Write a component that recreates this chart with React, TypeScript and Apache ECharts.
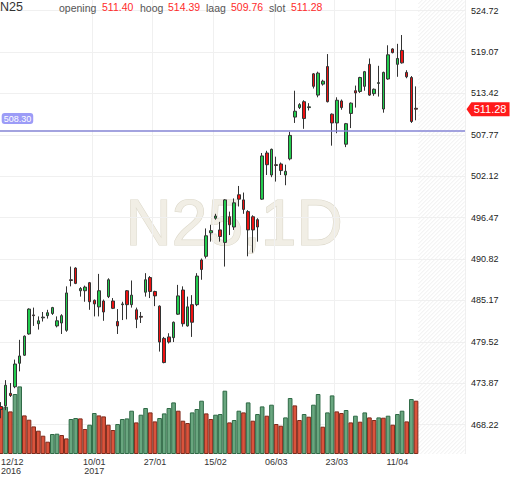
import React, { useEffect, useRef } from "react";
import * as echarts from "echarts";

const dates = [
  "12/12/2016","13/12/2016","14/12/2016","15/12/2016","16/12/2016","19/12/2016","20/12/2016","21/12/2016","22/12/2016","23/12/2016",
  "27/12/2016","28/12/2016","29/12/2016","30/12/2016","02/01/2017","03/01/2017","04/01/2017","05/01/2017","06/01/2017","09/01/2017",
  "10/01/2017","11/01/2017","12/01/2017","13/01/2017","16/01/2017","17/01/2017","18/01/2017","19/01/2017","20/01/2017","23/01/2017",
  "24/01/2017","25/01/2017","26/01/2017","27/01/2017","30/01/2017","31/01/2017","01/02/2017","02/02/2017","03/02/2017","06/02/2017",
  "07/02/2017","08/02/2017","09/02/2017","10/02/2017","13/02/2017","14/02/2017","15/02/2017","16/02/2017","17/02/2017","20/02/2017",
  "21/02/2017","22/02/2017","23/02/2017","24/02/2017","27/02/2017","28/02/2017","01/03/2017","02/03/2017","03/03/2017","06/03/2017",
  "07/03/2017","08/03/2017","09/03/2017","10/03/2017","13/03/2017","14/03/2017","15/03/2017","16/03/2017","17/03/2017","20/03/2017",
  "21/03/2017","22/03/2017","23/03/2017","24/03/2017","27/03/2017","28/03/2017","29/03/2017","30/03/2017","31/03/2017","03/04/2017",
  "04/04/2017","05/04/2017","06/04/2017","07/04/2017","10/04/2017","11/04/2017","12/04/2017","13/04/2017","18/04/2017","19/04/2017"
];

const opens = [
  470.7,470.8,472.5,473.4,476.6,477.7,480.6,483.2,482.0,482.8,
  483.1,483.4,481.7,482.1,481.1,488.0,489.6,486.5,486.5,487.6,
  485.2,484.3,485.1,485.7,485.1,482.3,484.6,486.5,484.6,483.9,
  483.0,486.3,488.3,486.4,484.4,480.0,480.2,480.1,483.3,486.6,
  481.7,484.6,484.6,490.7,491.2,494.4,496.4,494.8,493.1,496.6,
  495.2,499.6,498.9,497.3,496.6,496.2,499.0,505.3,502.3,503.7,
  503.8,502.3,504.5,510.2,511.5,512.3,511.5,516.1,513.2,514.7,
  517.1,510.6,509.4,512.4,506.5,510.7,513.8,513.7,514.4,517.4,
  513.4,514.8,511.3,515.4,519.5,517.4,519.3,516.3,515.6,511.40
];
const highs = [
  471.3,474.3,473.9,477.1,479.8,480.4,484.1,484.2,483.0,483.6,
  483.9,484.3,483.0,483.3,487.1,489.8,489.7,487.0,487.2,487.7,
  485.3,488.8,485.3,488.2,485.5,484.0,485.0,486.6,487.9,484.2,
  483.6,488.9,488.5,486.5,484.5,480.2,480.7,482.3,487.3,487.1,
  485.7,485.9,488.9,490.9,495.0,495.5,497.0,495.9,499.0,497.3,
  499.1,500.8,499.9,497.5,496.8,496.4,505.3,505.6,505.9,504.8,
  504.0,503.7,508.2,513.8,512.1,512.5,512.1,516.2,516.4,515.3,
  518.8,510.7,512.9,512.6,509.4,512.2,514.5,515.7,516.5,518.2,
  514.1,517.2,516.4,520.0,519.6,520.2,521.4,516.6,515.8,514.39
];
const lows = [
  469.1,470.2,472.0,473.2,475.5,477.6,480.5,481.7,481.2,482.3,
  482.7,483.2,481.5,480.6,480.9,487.1,487.4,485.7,485.0,483.9,
  483.0,483.0,482.4,485.5,484.0,480.6,482.5,482.6,484.2,481.4,
  482.1,485.7,485.5,484.4,478.2,476.6,479.3,479.5,483.2,481.6,
  481.6,480.2,484.4,488.0,490.9,493.2,496.2,493.2,489.8,494.1,
  494.8,498.0,497.0,491.2,491.7,493.2,498.9,502.3,502.0,501.4,
  502.3,500.9,504.3,509.4,511.3,508.6,511.1,514.1,512.9,514.5,
  512.2,506.3,508.0,511.2,506.1,508.7,511.5,513.5,513.8,513.1,
  513.1,513.0,510.8,515.3,518.9,515.7,517.5,515.5,509.4,509.76
];
const closes = [
  470.3,473.6,472.2,476.5,477.6,480.3,484.0,483.1,482.4,482.9,
  483.5,484.2,482.4,483.1,486.2,487.9,487.5,486.8,487.0,485.0,
  484.7,486.5,483.6,488.0,484.1,481.7,484.7,484.6,485.9,482.6,
  482.9,488.0,486.4,485.8,479.5,476.7,479.5,482.2,485.8,482.0,
  484.3,482.2,488.5,489.4,494.0,494.7,496.7,493.9,498.9,495.5,
  498.5,499.0,497.6,494.8,494.8,495.2,504.9,503.7,505.8,503.6,
  502.9,502.8,507.7,511.0,511.9,510.0,511.6,514.4,516.2,515.1,
  512.3,509.4,512.5,511.5,509.3,512.1,513.5,515.6,516.4,513.2,
  514.0,514.9,516.3,518.7,519.0,518.2,517.6,515.7,509.6,511.28
];
const volumes = [
  46.6,47.3,42.6,60.0,67.6,38.6,34.3,27.6,23.3,18.3,
  12.3,20.0,20.3,19.0,15.6,35.0,36.0,35.6,25.0,29.3,
  41.0,38.6,37.6,29.3,24.0,30.0,35.0,35.6,43.3,31.6,
  39.3,46.0,41.6,32.6,36.0,40.6,46.0,51.6,43.3,33.3,
  31.0,41.6,45.0,53.3,40.6,35.0,39.3,40.0,63.3,31.6,
  34.0,43.3,41.6,51.6,33.3,40.0,47.6,38.3,49.3,30.0,
  28.3,36.6,56.0,48.6,34.0,40.0,37.3,49.3,60.0,27.3,
  41.6,58.6,42.6,41.0,44.0,31.6,38.3,32.3,41.6,36.6,
  34.0,36.6,36.3,38.3,29.3,40.0,43.3,32.6,55.0,53.3
];

const labelDates = ["12/12/2016","10/01/2017","27/01/2017","15/02/2017","06/03/2017","23/03/2017","11/04/2017"];
const priceTicks = [468.22,473.87,479.52,485.17,490.82,496.47,502.12,507.77,513.42,519.07,524.72];
const priceMin = 464.22;
const priceMax = 526.18;
const volumeMax = 454;
const refLevel = 508.3;
const futureSlots = 10;
const symbolName = "N25";
const watermarkText = "N25,1D";
const headerNames = ["opening", "hoog", "laag", "slot"];

const FONT = 'Arial, "Liberation Sans", sans-serif';

export default function App() {
  const ref = useRef<HTMLDivElement>(null);

  useEffect(() => {
    if (!ref.current) return;
    const chart = echarts.init(ref.current, undefined, { renderer: "svg" });

    const axisData = [...dates, ...Array(futureSlots).fill("")];
    const candleData = dates.map((_, i) => [opens[i], closes[i], lows[i], highs[i]]);
    const volData = volumes.map((v, i) => {
      const up = i > 0 && v > volumes[i - 1];
      return {
        value: v,
        itemStyle: {
          color: up ? "#69a67f" : "#da533c",
          borderColor: up ? "#2f6a46" : "#7e2b1c",
        },
      };
    });

    const yearOf: Record<string, string> = {};
    let prevYear = "";
    labelDates.forEach((d) => {
      const y = d.split("/")[2];
      if (y !== prevYear) yearOf[d] = y;
      prevYear = y;
    });
    const showLabel = (_i: number, v: string) => labelDates.includes(v);

    const last = dates.length - 1;
    const headerValues = [opens[last], highs[last], lows[last], closes[last]];
    const nameX = [59, 140, 206, 269];
    const valX = [102, 168, 231, 291];

    const graphic: any[] = [
      {
        type: "text",
        left: 233 - 108,
        top: 190,
        z: -10,
        silent: true,
        style: {
          text: watermarkText,
          font: `64px ${FONT}`,
          fill: "#f1eee5",
          stroke: "#dcd8ca",
          lineWidth: 1.2,
        },
      },
      {
        type: "text",
        x: 0,
        y: 7,
        z: 100,
        style: { text: symbolName, font: `12.5px ${FONT}`, fill: "#333", verticalAlign: "middle" },
      },
    ];
    headerNames.forEach((n, k) => {
      graphic.push({
        type: "text",
        x: nameX[k],
        y: 8,
        z: 100,
        style: { text: n, font: `10.5px ${FONT}`, fill: "#555", verticalAlign: "middle" },
      });
      graphic.push({
        type: "text",
        x: valX[k],
        y: 7,
        z: 100,
        style: { text: headerValues[k].toFixed(2), font: `10.5px ${FONT}`, fill: "#ff2b2b", verticalAlign: "middle" },
      });
    });

    const gridPos = { left: -1.3, right: 47, top: 0, bottom: 23, outerBoundsMode: "none" };

    chart.setOption({
      animation: false,
      backgroundColor: "#fff",
      textStyle: { fontFamily: FONT },
      grid: [{ ...gridPos }, { ...gridPos }],
      graphic,
      xAxis: [
        {
          type: "category",
          gridIndex: 0,
          data: axisData,
          boundaryGap: true,
          axisLine: { show: false },
          axisTick: { show: false },
          axisLabel: {
            interval: showLabel,
            formatter: (v: string) => {
              const [d, m] = v.split("/");
              return yearOf[v] ? `${d}/${m}\n${yearOf[v]}` : `${d}/${m}`;
            },
            fontSize: 9,
            lineHeight: 8.5,
            color: "#333",
            margin: 4,
            alignMinLabel: "left",
            verticalAlign: "top",
          },
          splitLine: { show: true, interval: showLabel, lineStyle: { color: "#f0f0f0", width: 1 } },
        },
        {
          type: "category",
          gridIndex: 1,
          data: axisData,
          show: false,
        },
      ],
      yAxis: [
        {
          type: "value",
          gridIndex: 0,
          position: "right",
          min: priceMin,
          max: priceMax,
          axisLine: { show: false },
          axisTick: { show: false, customValues: priceTicks },
          axisLabel: {
            customValues: priceTicks,
            formatter: (v: number) => v.toFixed(2),
            fontSize: 9,
            color: "#222",
            margin: 6,
          },
          splitLine: { show: true, lineStyle: { color: "#f0f0f0", width: 1 } },
        },
        {
          type: "value",
          gridIndex: 1,
          min: 0,
          max: volumeMax,
          show: false,
          splitLine: { show: false },
        },
      ],
      series: [
        {
          type: "bar",
          xAxisIndex: 1,
          yAxisIndex: 1,
          data: volData,
          barWidth: "100%",
          barCategoryGap: 0,
          z: 1,
          itemStyle: { borderWidth: 1 },
        },
        {
          type: "custom",
          xAxisIndex: 0,
          yAxisIndex: 0,
          z: 0,
          silent: true,
          data: [[dates.length, priceMax]],
          renderItem: (params: any, api: any) => {
            const cs = params.coordSys;
            const bw = api.size([1, 0])[0];
            const x0 = api.coord([api.value(0), api.value(1)])[0] - bw / 2;
            const x1 = cs.x + cs.width;
            const y0 = cs.y;
            const y1 = cs.y + cs.height;
            const children: any[] = [];
            for (let c = x0 + y0; c < x1 + y1; c += 4) {
              const xa = Math.max(x0, c - y1);
              const xb = Math.min(x1, c - y0);
              if (xb > xa) {
                children.push({
                  type: "line",
                  shape: { x1: xa, y1: c - xa, x2: xb, y2: c - xb },
                  style: { stroke: "#efefef", lineWidth: 1 },
                });
              }
            }
            return { type: "group", children };
          },
        },
        {
          type: "candlestick",
          xAxisIndex: 0,
          yAxisIndex: 0,
          data: candleData,
          barWidth: 3,
          z: 3,
          itemStyle: {
            color: "#22cc4e",
            color0: "#ee1111",
            borderColor: "#333",
            borderColor0: "#333",
            borderColorDoji: "#333",
            borderWidth: 1,
          },
          markLine: {
            silent: true,
            symbol: ["none", "none"],
            lineStyle: { color: "#8585d4", width: 1.5, type: "solid" },
            label: {
              show: true,
              position: "insideStartTop",
              formatter: () => refLevel.toFixed(2),
              backgroundColor: "#9c9cf7",
              color: "#fff",
              fontSize: 9,
              borderRadius: 3,
              padding: [1, 2],
              distance: [3, 7],
            },
            data: [{ yAxis: refLevel }],
          },
          markPoint: {
            silent: true,
            symbol: "path://M0,7 L5,0 L44,0 L44,14 L5,14 Z",
            symbolSize: [43, 14],
            symbolOffset: [72, 0],
            itemStyle: { color: "#ff1a1a" },
            label: {
              show: true,
              position: "inside",
              offset: [2, 0],
              color: "#fff",
              fontSize: 11,
              formatter: () => closes[last].toFixed(2),
            },
            data: [{ coord: [last, closes[last]], value: closes[last] }],
          },
        },
      ],
    });

    return () => chart.dispose();
  }, []);

  return (
    <div
      ref={ref}
      style={{ position: "fixed", left: 0, top: 0, width: 512, height: 477 }}
    />
  );
}
